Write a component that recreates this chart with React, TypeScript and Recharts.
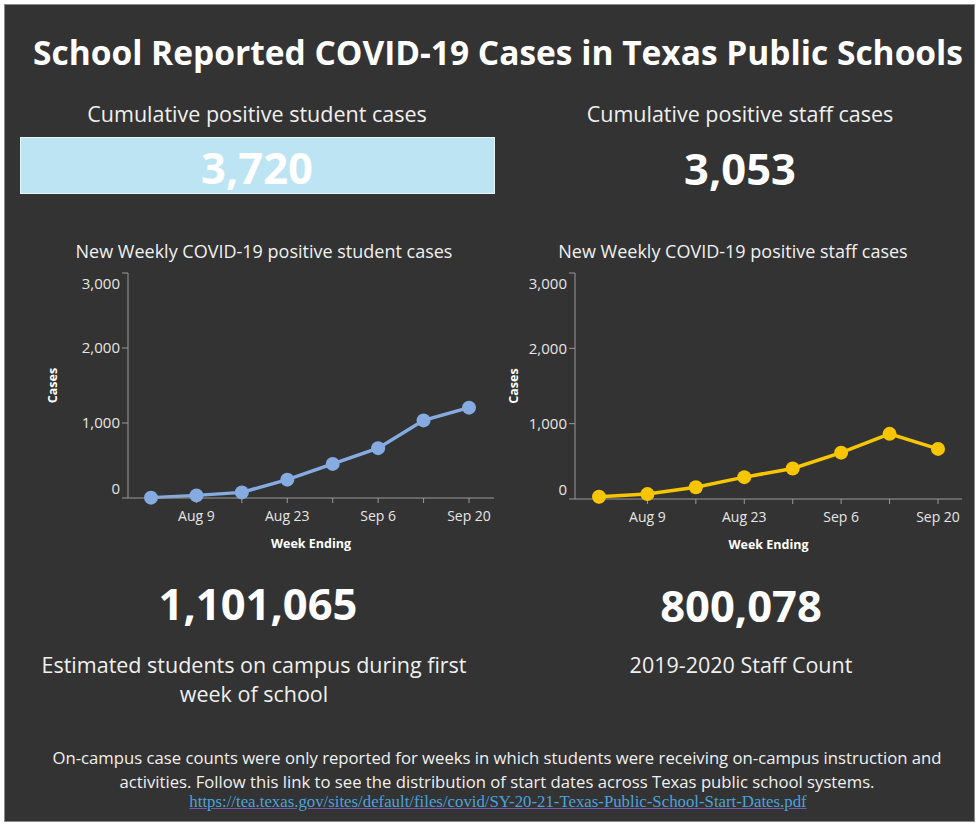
import React from 'react';
import { LineChart, Line, XAxis, YAxis } from 'recharts';

const weeks = ['Aug 2', 'Aug 9', 'Aug 16', 'Aug 23', 'Aug 30', 'Sep 6', 'Sep 13', 'Sep 20'];
const studentCases = [5, 35, 75, 245, 455, 665, 1035, 1205];
const staffCases = [30, 65, 155, 290, 405, 615, 865, 665];
const yTicks = [0, 1000, 2000, 3000];
const shownWeekLabels = ['Aug 9', 'Aug 23', 'Sep 6', 'Sep 20'];

const studentData = weeks.map((w, i) => ({ week: w, cases: studentCases[i] }));
const staffData = weeks.map((w, i) => ({ week: w, cases: staffCases[i] }));

const SANS = '"Open Sans", "Noto Sans", sans-serif';
const AXIS = '#9a9a9a';
const TICK_TEXT = '#e6e6e6';

const YTick = (props: any) => {
  const { x, y, payload } = props;
  let dy = 0;
  if (payload.value === 3000) dy = 10;
  if (payload.value === 0) dy = -9;
  return (
    <text x={x} y={y + dy} dy="0.35em" textAnchor="end" fill={TICK_TEXT} fontSize={15} fontFamily={SANS}>
      {Number(payload.value).toLocaleString('en-US')}
    </text>
  );
};

const XTick = (props: any) => {
  const { x, y, payload } = props;
  if (!shownWeekLabels.includes(payload.value)) return <g />;
  return (
    <text x={x} y={y} dy="0.85em" textAnchor="middle" fill={TICK_TEXT} fontSize={14} fontFamily={SANS}>
      {payload.value}
    </text>
  );
};

type ChartProps = {
  data: { week: string; cases: number }[];
  color: string;
  left: number;
  yWidth: number;
  right: number;
  padL: number;
  padR: number;
  xAxisH: number;
  casesX: number;
};

const WeeklyChart = ({ data, color, left, yWidth, right, padL, padR, xAxisH, casesX }: ChartProps) => (
  <div style={{ position: 'absolute', left, top: 265, width: 470, height: 295 }}>
    <LineChart width={470} height={295} data={data} margin={{ top: 8, right, left: 0, bottom: 0 }}>
      <XAxis
        dataKey="week"
        height={xAxisH}
        stroke={AXIS}
        tickLine={{ stroke: AXIS }}
        tickSize={5}
        tickMargin={6}
        interval={0}
        padding={{ left: padL, right: padR }}
        tick={<XTick />}
        label={{
          content: (p: any) => {
            const vb = p.viewBox;
            return (
              <text x={vb.x + vb.width / 2} y={vb.y + 50} textAnchor="middle" fill="#ffffff" fontSize={12.5} fontWeight={700} fontFamily={SANS}>
                Week Ending
              </text>
            );
          },
        }}
      />
      <YAxis
        width={yWidth}
        domain={[0, 3000]}
        ticks={yTicks}
        stroke={AXIS}
        tickLine={{ stroke: AXIS }}
        tickSize={6}
        tickMargin={2}
        tick={<YTick />}
        label={{
          content: (p: any) => {
            const vb = p.viewBox;
            const cy = vb.y + vb.height / 2;
            return (
              <text x={casesX} y={cy} transform={`rotate(-90 ${casesX} ${cy})`} dy="0.35em" textAnchor="middle" fill="#ffffff" fontSize={12.5} fontWeight={700} fontFamily={SANS}>
                Cases
              </text>
            );
          },
        }}
      />
      <Line
        type="linear"
        dataKey="cases"
        stroke={color}
        strokeWidth={3.5}
        dot={{ r: 7, fill: color, stroke: color, strokeWidth: 0 }}
        isAnimationActive={false}
      />
    </LineChart>
  </div>
);

const T = ({ x, y, w = 600, size, weight = 400, color = '#f0f0f0', family = SANS, lh, children, style }: any) => {
  const h = lh || Math.round(size * 1.4);
  return (
    <div
      style={{
        position: 'absolute',
        left: x - w / 2,
        top: y - h / 2,
        width: w,
        height: h,
        lineHeight: `${h}px`,
        textAlign: 'center',
        fontSize: size,
        fontWeight: weight,
        color,
        fontFamily: family,
        whiteSpace: 'nowrap',
        ...style,
      }}
    >
      {children}
    </div>
  );
};

export default function App() {
  return (
    <div style={{ position: 'absolute', left: 0, top: 0, width: 979, height: 826, background: '#ffffff' }}>
      <div
        style={{
          position: 'absolute',
          left: 4,
          top: 4,
          width: 969,
          height: 816,
          background: '#333333',
          border: '1px solid #8a8a8a',
        }}
      />
      <T x={498} y={52} w={979} size={33.5} weight={700} color="#ffffff">
        School Reported COVID-19 Cases in Texas Public Schools
      </T>

      <T x={257} y={114} w={480} size={21.5}>Cumulative positive student cases</T>
      <div style={{ position: 'absolute', left: 20, top: 137, width: 473, height: 55, background: '#bde4f2', border: '1px solid #e8f6fb' }} />
      <T x={257} y={167} w={480} size={43.5} weight={700} color="#ffffff">3,720</T>

      <T x={740} y={114} w={480} size={21.5}>Cumulative positive staff cases</T>
      <T x={740} y={168} w={480} size={43.5} weight={700} color="#ffffff">3,053</T>

      <T x={264} y={251} w={480} size={18}>New Weekly COVID-19 positive student cases</T>
      <T x={733} y={251} w={480} size={18}>New Weekly COVID-19 positive staff cases</T>

      <WeeklyChart data={studentData} color="#85abe0" left={40} yWidth={88} right={16} padL={23} padR={25} xAxisH={62} casesX={13} />
      <WeeklyChart data={staffData} color="#f7c600" left={500} yWidth={75} right={8} padL={24} padR={24} xAxisH={61} casesX={14} />

      <T x={258} y={603} w={480} size={43.5} weight={700} color="#ffffff">1,101,065</T>
      <T x={741} y={605} w={480} size={43.5} weight={700} color="#ffffff">800,078</T>

      <T x={254} y={665} w={480} size={21.5}>Estimated students on campus during first</T>
      <T x={254} y={694} w={480} size={21.5}>week of school</T>
      <T x={741} y={665} w={480} size={21.5}>2019-2020 Staff Count</T>

      <T x={497} y={757} w={979} size={16.7}>
        On-campus case counts were only reported for weeks in which students were receiving on-campus instruction and
      </T>
      <T x={497} y={781} w={979} size={16.7}>
        activities. Follow this link to see the distribution of start dates across Texas public school systems.
      </T>
      <T x={498} y={802} w={979} size={16.8} family='"Liberation Serif", "Times New Roman", serif' color="#4aa3dc" style={{ textDecoration: 'underline', textDecorationColor: '#7a5aa8' }}>
        https://tea.texas.gov/sites/default/files/covid/SY-20-21-Texas-Public-School-Start-Dates.pdf
      </T>
    </div>
  );
}
